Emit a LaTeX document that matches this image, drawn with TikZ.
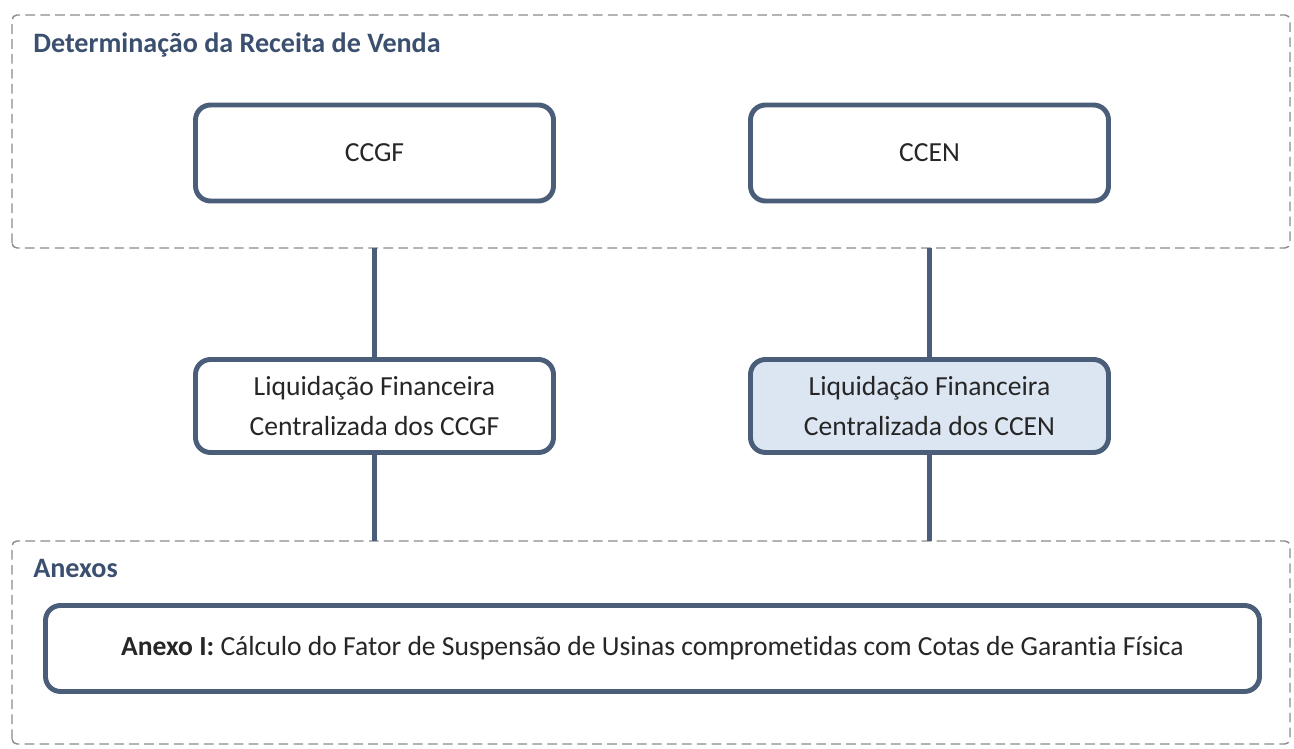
\documentclass[tikz,border=0pt]{standalone}
\usepackage{fontspec}
\setmainfont{Carlito}[Ligatures=CommonOff]
\usepackage{xcolor}
\definecolor{boxline}{HTML}{4A5E7A}
\definecolor{titleblue}{HTML}{3B4F6E}
\definecolor{lightfill}{HTML}{DCE6F2}
\definecolor{framegray}{HTML}{8A8A8A}
\definecolor{textgray}{HTML}{262626}

\begin{document}
\begin{tikzpicture}[
        frame/.style={draw=framegray, line width=0.8pt, dash pattern=on 5.5pt off 3pt, rounded corners=0.1cm},
        stage/.style={draw=boxline, line width=2.8pt, rounded corners=0.3cm, fill=white,
            minimum width=7.16cm, align=center, text=textgray, font=\fontsize{15.7}{22.5}\selectfont},
        frametitle/.style={anchor=west, inner sep=0pt, text=titleblue, font=\fontsize{16}{19}\selectfont\bfseries},
        link/.style={draw=boxline, line width=2.5pt}
    ]
                \useasboundingbox (0,0) rectangle (25.88,14.98);

                \draw[frame] (0.24,10.02) rectangle (25.80,14.68);
                \draw[frame] (0.24,0.10) rectangle (25.80,4.16);

                \node[frametitle] (T1) at (0.66,14.08) {Determinação da Receita de Venda};
                \node[frametitle] (T2) at (0.66,3.62) {Anexos};

                \coordinate (F1) at (0,10.02);
                \coordinate (F2) at (0,4.16);

                \node[stage, minimum height=1.92cm] (CCGF) at (7.49,11.92) {CCGF};
                \node[stage, minimum height=1.92cm] (CCEN) at (18.59,11.92) {CCEN};

                \node[stage, minimum height=1.86cm] (L1) at (7.49,6.86) {Liquidação Financeira\\Centralizada dos CCGF};
                \node[stage, minimum height=1.86cm, fill=lightfill] (L2) at (18.59,6.86) {Liquidação Financeira\\Centralizada dos CCEN};

                \node[stage, minimum width=24.28cm, minimum height=1.72cm] (AX) at (13.05,2.01)
                    {\textbf{Anexo I:} Cálculo do Fator de Suspensão de Usinas comprometidas com Cotas de Garantia Física};

                \draw[link] (F1 -| L1.north) -- (L1.north);
                \draw[link] (F1 -| L2.north) -- (L2.north);
                \draw[link] (L1.south) -- (F2 -| L1.south);
                \draw[link] (L2.south) -- (F2 -| L2.south);
\end{tikzpicture}
\end{document}
